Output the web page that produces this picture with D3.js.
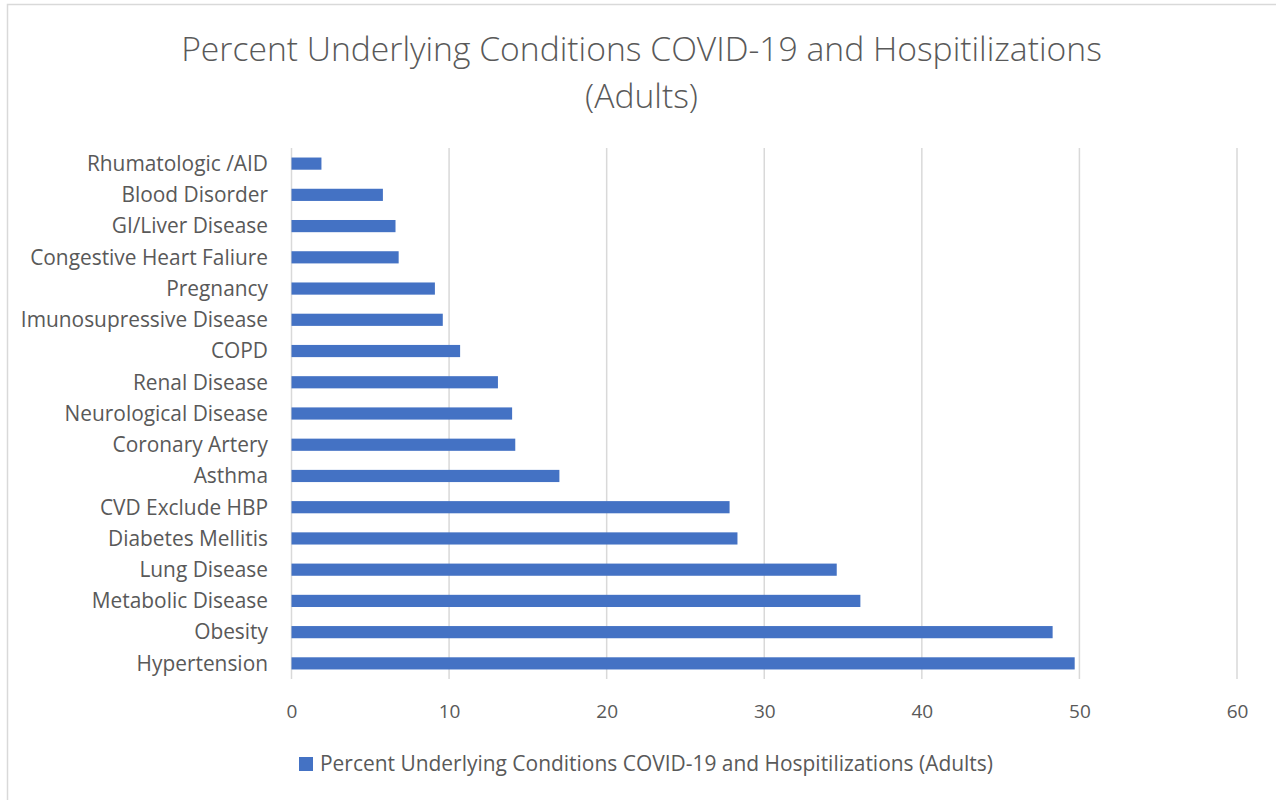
<!DOCTYPE html>
<html>
<head>
<meta charset="utf-8">
<script src="https://cdn.jsdelivr.net/npm/d3@7"></script>
<style>
  html, body { margin: 0; padding: 0; background: #fff; }
  svg { display: block; }
  text { font-family: "Open Sans", "Noto Sans", sans-serif; fill: #595959; }
</style>
</head>
<body>
<svg id="chart" width="1276" height="800"></svg>
<script>
const categories = [
  "Rhumatologic /AID",
  "Blood Disorder",
  "GI/Liver Disease",
  "Congestive Heart Faliure",
  "Pregnancy",
  "Imunosupressive Disease",
  "COPD",
  "Renal Disease",
  "Neurological Disease",
  "Coronary Artery",
  "Asthma",
  "CVD Exclude HBP",
  "Diabetes Mellitis",
  "Lung Disease",
  "Metabolic Disease ",
  "Obesity",
  "Hypertension"
];
const values = [1.9, 5.8, 6.6, 6.8, 9.1, 9.6, 10.7, 13.1, 14.0, 14.2, 17.0, 27.8, 28.3, 34.6, 36.1, 48.3, 49.7];
const xTicks = [0, 10, 20, 30, 40, 50, 60];
const titleLines = ["Percent Underlying Conditions COVID-19 and Hospitilizations", "(Adults)"];
const seriesName = "Percent Underlying Conditions COVID-19 and Hospitilizations (Adults)";

const svg = d3.select("#chart");

// chart border
svg.append("rect")
  .attr("x", 7.5).attr("y", 4.5)
  .attr("width", 1290).attr("height", 820)
  .attr("fill", "none").attr("stroke", "#d9d9d9").attr("stroke-width", 1.5);

const plot = { left: 291.5, right: 1237, top: 148, bottom: 679 };

const x = d3.scaleLinear().domain([0, 60]).range([plot.left, plot.right]);
const y = d3.scaleBand().domain(categories)
  .range([plot.top, plot.bottom]).paddingInner(0.61).paddingOuter(0.305);

function fit(sel, target) {
  sel.each(function() {
    const w = this.getComputedTextLength();
    const fs = parseFloat(d3.select(this).attr("font-size"));
    d3.select(this).attr("font-size", (fs * target / w).toFixed(2));
  });
}

// gridlines
svg.append("g").selectAll("line").data(xTicks).join("line")
  .attr("x1", d => x(d)).attr("x2", d => x(d))
  .attr("y1", plot.top).attr("y2", plot.bottom)
  .attr("stroke", "#d9d9d9").attr("stroke-width", 1.5);

// bars
svg.append("g").selectAll("rect").data(categories).join("rect")
  .attr("x", x(0))
  .attr("y", d => y(d))
  .attr("width", (d, i) => x(values[i]) - x(0))
  .attr("height", y.bandwidth())
  .attr("fill", "#4472C4");

// category labels
const yAxis = d3.axisLeft(y).tickSize(0).tickPadding(0);
const yg = svg.append("g").attr("transform", `translate(268,0)`).call(yAxis);
yg.select(".domain").remove();
yg.selectAll("text")
  .attr("font-size", 18)
  .attr("font-family", "'Open Sans', 'Noto Sans', sans-serif")
  .attr("fill", "#595959")
  .attr("dy", "0.35em");
{
  const probe = yg.selectAll("text").filter(d => d === "Congestive Heart Faliure").node();
  const w = probe.getComputedTextLength();
  const fs = 18 * 238 / w;
  yg.selectAll("text").attr("font-size", fs.toFixed(2));
}

// x axis tick labels
const xAxis = d3.axisBottom(x).tickValues(xTicks).tickSize(0).tickPadding(0);
const xg = svg.append("g").attr("transform", `translate(0,711)`).call(xAxis);
xg.select(".domain").remove();
xg.selectAll("text")
  .attr("font-size", 19)
  .attr("font-family", "'Open Sans', 'Noto Sans', sans-serif")
  .attr("fill", "#595959")
  .attr("dy", "0.35em")
  .attr("y", 0);

// title
const t1 = svg.append("text").attr("x", 641.5).attr("y", 61)
  .attr("text-anchor", "middle").attr("font-size", 30).attr("font-weight", 300)
  .text(titleLines[0]);
fit(t1, 921);
const tfs = t1.attr("font-size");
svg.append("text").attr("x", 641.5).attr("y", 108)
  .attr("text-anchor", "middle").attr("font-size", tfs).attr("font-weight", 300)
  .text(titleLines[1]);

// legend
svg.append("rect").attr("x", 299).attr("y", 757).attr("width", 14).attr("height", 14)
  .attr("fill", "#4472C4");
const lt = svg.append("text").attr("x", 320).attr("y", 764).attr("dy", "0.35em")
  .attr("font-size", 18).text(seriesName);
fit(lt, 673);
</script>
</body>
</html>
